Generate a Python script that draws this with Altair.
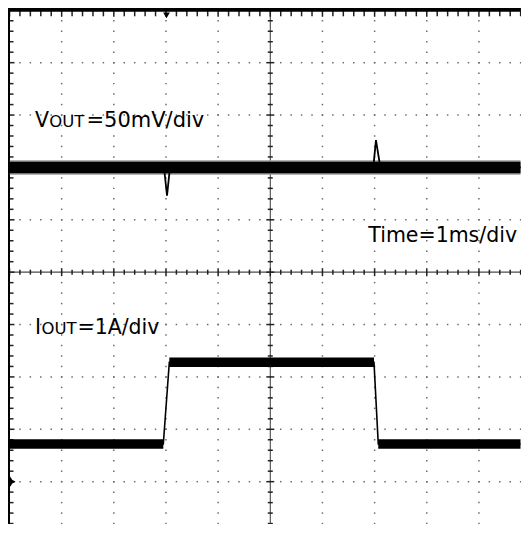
import altair as alt
import pandas as pd

# ---- screen geometry (divisions); the right/bottom edge of the 10x10 screen is cut off ----
X_DOMAIN = [0.0, 9.797]      # 1 ms/div, left edge = 0 ms
Y_DOMAIN = [0.186, 10.0]
W, H = 511, 514

# ---- VOUT trace: 50 mV/div, channel-1 ground at 7 div ----
vout_time_ms = [0.0, 2.962, 3.020, 3.077, 6.975, 7.026, 7.110, 10.0]
vout_mv = [0, 0, -27, 0, 0, 26, 0, 0]
VOUT_GND_DIV = 7.0
VOUT_SCALE = 50.0

# ---- IOUT trace: 1 A/div, channel-2 ground at 1 div ----
iout_time_ms = [0.0, 2.949, 3.064, 6.988, 7.070, 10.0]
iout_amp = [0.72, 0.72, 2.28, 2.28, 0.72, 0.72]
iout_seg = ["a", "a", "b", "b", "c", "c"]
IOUT_GND_DIV = 1.0
IOUT_SCALE = 1.0

TRIGGER_MS = 3.01

# ---- labels ----
label_parts = ["V", "OUT", "=50mV/div", "I", "OUT", "=1A/div", "Time=1ms/div"]
label_x = [0.489, 0.489, 0.489, 0.489, 0.489, 0.489, 9.73]
label_y = [7.767, 7.767, 7.767, 3.82, 3.82, 3.82, 5.58]
label_dx = [0, 14.3, 51.5, 0, 6.4, 42.5, 0]
label_size = [20.5, 16.5, 21, 20.5, 16.5, 20.5, 20.5]
label_align = ["left", "left", "left", "left", "left", "left", "right"]

xs = alt.Scale(domain=X_DOMAIN, nice=False, zero=False)
ys = alt.Scale(domain=Y_DOMAIN, nice=False, zero=False)

def X(f):
    return alt.X(f, type="quantitative", scale=xs, axis=None)

def Y(f):
    return alt.Y(f, type="quantitative", scale=ys, axis=None)

# ---- graticule ----
steps = [round(k * 0.2, 1) for k in range(51)]
majors = [1, 2, 3, 4, 6, 7, 8, 9]
dots = pd.DataFrame(
    [{"x": m, "y": s} for m in majors for s in steps]
    + [{"x": s, "y": m} for m in majors for s in steps]
)
grid_dots = alt.Chart(dots).mark_square(size=2.2, color="#6a6a6a", opacity=1).encode(
    x=X("x"), y=Y("y")
)

center = alt.Chart(pd.DataFrame({"v": [5.0]}))
cv = center.mark_rule(color="#4a4a4a", strokeWidth=1.1).encode(x=X("v"))
ch = center.mark_rule(color="#4a4a4a", strokeWidth=1.1).encode(y=Y("v"))

tk = pd.DataFrame({"s": steps, "major": [abs(s - round(s)) < 1e-6 for s in steps]})
minor_tk = tk[~tk["major"]]
major_tk = tk[tk["major"]]

# short horizontal strokes stacked along a vertical line
def hticks(df, xpos, size):
    return alt.Chart(df).mark_tick(orient="horizontal", size=size, thickness=1.5, color="#222222", opacity=1).encode(
        x=X("xx"), y=Y("s")
    ).transform_calculate(xx=str(xpos))

# short vertical strokes stacked along a horizontal line
def vticks(df, ypos, size):
    return alt.Chart(df).mark_tick(orient="vertical", size=size, thickness=1.5, color="#222222", opacity=1).encode(
        y=Y("yy"), x=X("s")
    ).transform_calculate(yy=str(ypos))

ticks = [
    hticks(minor_tk, 5, 5), hticks(major_tk, 5, 8),
    vticks(minor_tk, 5, 5), vticks(major_tk, 5, 8),
    hticks(minor_tk, 0, 8), hticks(major_tk, 0, 10),
    vticks(minor_tk, 10, 12), vticks(major_tk, 10, 13),
]

frame_src = alt.Chart(pd.DataFrame({"k": [0]}))
top_bar = frame_src.mark_rule(color="black", strokeWidth=4).encode(
    y=alt.value(-0.5), x=alt.value(-2), x2=alt.value(W)
)
left_bar = frame_src.mark_rule(color="black", strokeWidth=3).encode(
    x=alt.value(-1), y=alt.value(-2), y2=alt.value(H)
)

# ---- traces ----
vdf = pd.DataFrame({"t": vout_time_ms, "mv": vout_mv})
vout_base = alt.Chart(vdf).transform_calculate(
    d=f"{VOUT_GND_DIV} + datum.mv / {VOUT_SCALE}"
)
vout_halo = vout_base.transform_filter("datum.mv == 0").mark_line(
    color="#9a9a9a", strokeWidth=14.5, strokeCap="butt", clip=True
).encode(x=X("t"), y=Y("d"), order="t:Q")
vout_band = vout_base.transform_filter("datum.mv == 0").mark_line(
    color="black", strokeWidth=11.5, strokeCap="butt", clip=True
).encode(x=X("t"), y=Y("d"), order="t:Q")
vout_thin = vout_base.mark_line(color="black", strokeWidth=1.8, clip=True).encode(
    x=X("t"), y=Y("d"), order="t:Q"
)

idf = pd.DataFrame({"t": iout_time_ms, "a": iout_amp, "seg": iout_seg})
iout_base = alt.Chart(idf).transform_calculate(
    d=f"{IOUT_GND_DIV} + datum.a / {IOUT_SCALE}"
)
iout_band = iout_base.mark_line(color="black", strokeWidth=9.5, strokeCap="butt", clip=True).encode(
    x=X("t"), y=Y("d"), detail="seg:N", order="t:Q"
)
iout_thin = iout_base.mark_line(color="black", strokeWidth=1.6, clip=True).encode(
    x=X("t"), y=Y("d"), order="t:Q"
)

# ---- markers ----
gnd = alt.Chart(pd.DataFrame({"g": [VOUT_GND_DIV, IOUT_GND_DIV]}))
gnd_blob = gnd.mark_point(shape="circle", filled=True, color="black", size=230, opacity=1).encode(
    x=alt.value(-5), y=Y("g")
)
gnd_tri = gnd.mark_point(shape="triangle-right", filled=True, color="black", size=35, opacity=1).encode(
    x=alt.value(3.5), y=Y("g")
)
trig = alt.Chart(pd.DataFrame({"t": [TRIGGER_MS]})).mark_point(
    shape="triangle-down", filled=True, color="black", size=45, opacity=1
).encode(x=X("t"), y=alt.value(5))

# ---- text ----
ldf = pd.DataFrame({"txt": label_parts, "x": label_x, "y": label_y})
texts = []
for i in range(len(label_parts)):
    texts.append(
        alt.Chart(ldf.iloc[[i]]).mark_text(
            align=label_align[i], baseline="alphabetic", dx=label_dx[i],
            font="DejaVu Sans", fontSize=label_size[i], color="black",
        ).encode(x=X("x"), y=Y("y"), text="txt:N")
    )

chart = alt.layer(
    grid_dots, cv, ch, *ticks, top_bar, left_bar,
    vout_halo, vout_band, vout_thin, iout_band, iout_thin,
    gnd_blob, gnd_tri, trig, *texts,
).properties(
    width=W, height=H,
    padding={"left": 1.5, "top": 2.3, "right": 0, "bottom": 0},
    autosize=alt.AutoSizeParams(type="none"),
    background="white",
).configure_view(stroke=None)

chart.save("out.html", embed_options={"renderer": "svg", "actions": False})
